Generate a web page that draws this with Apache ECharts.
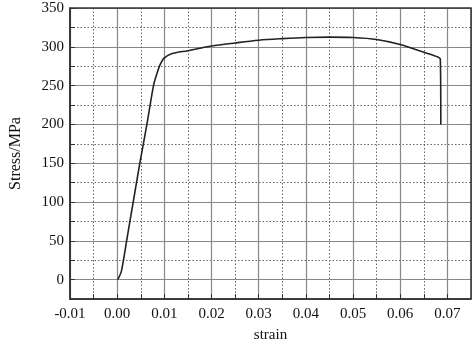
<!DOCTYPE html>
<html>
<head>
<meta charset="utf-8">
<script src="https://cdn.jsdelivr.net/npm/echarts@6/dist/echarts.min.js"></script>
<style>html,body{margin:0;padding:0;background:#fff}#c{width:472px;height:348px}</style>
</head>
<body>
<div id="c"></div>
<script>
// Data
var strain = [0.0001, 0.0009, 0.0020, 0.0034, 0.0048, 0.0063, 0.0077, 0.0084, 0.0091, 0.0099, 0.0115, 0.0150, 0.0200, 0.0250, 0.0300, 0.0350, 0.0400, 0.0450, 0.0500, 0.0550, 0.0600, 0.0650, 0.0675, 0.0685, 0.0686];
var stress = [0, 11, 50, 100, 150, 200, 250, 265, 277, 285, 291, 295, 301, 305, 308.5, 310.5, 312, 312.5, 312, 309.5, 303, 293, 288, 284, 200];
var xRange = [-0.01, 0.075];
var yRange = [-25, 350];
var xMajor = 0.01, xMinor = 0.005;
var yMajor = 50, yMinor = 25;

var pts = strain.map(function (s, i) { return [s, stress[i]]; });
var font = 'Liberation Serif, Times New Roman, serif';
var isMult = function (v, step) { var r = v / step; return Math.abs(r - Math.round(r)) < 1e-6; };

var chart = echarts.init(document.getElementById('c'), null, {renderer: 'canvas'});
chart.setOption({
  animation: false,
  backgroundColor: '#fff',
  grid: {left: 63, top: 8, width: 408, height: 300, show: true, borderColor: '#333', borderWidth: 1.5, backgroundColor: 'transparent', z: 10},
  xAxis: [{
    type: 'value', min: xRange[0], max: xRange[1], interval: xMinor,
    axisLine: {show: true, onZero: false, lineStyle: {color: '#333', width: 1.5}},
    axisTick: {show: true, inside: true, length: 5, lineStyle: {color: '#333'}},
    axisLabel: {
      show: true, margin: 8, color: '#111', fontFamily: font, fontSize: 15,
      showMaxLabel: false,
      formatter: function (v) { return isMult(v, xMajor) ? v.toFixed(2) : ''; }
    },
    splitLine: {show: true, lineStyle: {color: '#666', type: [1.5, 2], width: 1}},
    name: 'strain', nameLocation: 'middle', nameGap: 29,
    nameTextStyle: {fontFamily: font, fontSize: 15, color: '#111'}
  }, {
    type: 'value', min: xRange[0], max: xRange[1], interval: xMajor, position: 'bottom',
    axisLine: {show: false, onZero: false}, axisTick: {show: false}, axisLabel: {show: false},
    splitLine: {show: true, lineStyle: {color: '#888', width: 1.2}}
  }],
  yAxis: [{
    type: 'value', min: yRange[0], max: yRange[1], interval: yMinor,
    axisLine: {show: true, onZero: false, lineStyle: {color: '#333', width: 1.5}},
    axisTick: {show: true, inside: true, length: 5, lineStyle: {color: '#333'}},
    axisLabel: {
      show: true, margin: 6, color: '#111', fontFamily: font, fontSize: 15,
      formatter: function (v) { return (isMult(v, yMajor) && v >= 0) ? String(Math.round(v)) : ''; }
    },
    splitLine: {show: true, lineStyle: {color: '#666', type: [1.5, 2], width: 1}},
    name: 'Stress/MPa', nameLocation: 'middle', nameGap: 46,
    nameTextStyle: {fontFamily: font, fontSize: 16, color: '#111'}
  }, {
    type: 'value', min: yRange[0], max: yRange[1], splitNumber: 7, position: 'left',
    axisLine: {show: false, onZero: false}, axisTick: {show: false}, axisLabel: {show: false},
    splitLine: {show: true, lineStyle: {color: '#888', width: 1.2}}
  }],
  series: [{
    type: 'line', data: pts, xAxisIndex: 0, yAxisIndex: 0,
    showSymbol: false, smooth: 0.3, z: 5,
    lineStyle: {color: '#222', width: 1.6}
  }]
});
</script>
</body>
</html>
